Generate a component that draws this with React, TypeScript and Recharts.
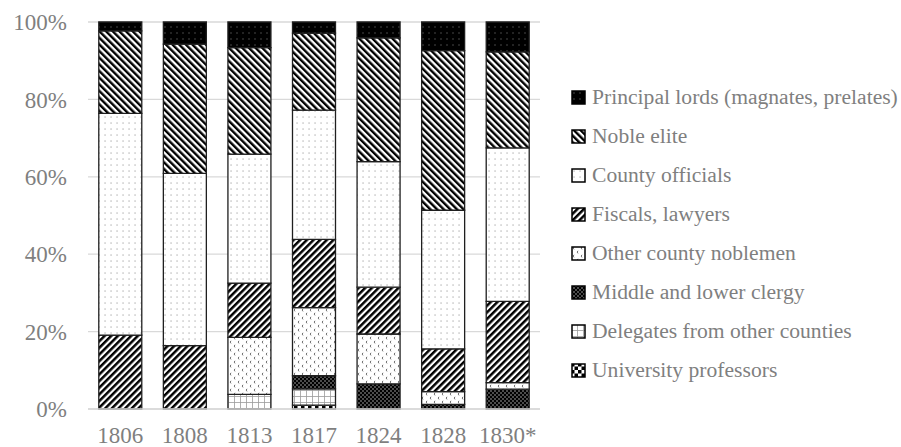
import React from 'react';
import { BarChart, Bar, XAxis, YAxis, CartesianGrid, Legend } from 'recharts';

const years = ['1806', '1808', '1813', '1817', '1824', '1828', '1830*'];
const principalLords = [2.3, 5.7, 6.6, 2.9, 4.1, 7.4, 7.7];
const nobleElite = [21.3, 33.4, 27.5, 19.9, 32.0, 41.1, 24.7];
const countyOfficials = [57.3, 44.5, 33.3, 33.4, 32.5, 35.7, 39.5];
const fiscalsLawyers = [19.1, 16.4, 14.0, 17.7, 12.1, 11.0, 20.9];
const otherNoblemen = [0, 0, 14.7, 17.6, 12.9, 3.3, 1.7];
const lowerClergy = [0, 0, 0, 3.4, 6.5, 1.2, 5.1];
const delegates = [0, 0, 3.8, 4.2, 0, 0, 0];
const professors = [0, 0, 0, 1.0, 0, 0, 0];
const yTicks = [0, 0.2, 0.4, 0.6, 0.8, 1];

// stacking order bottom -> top
const series = [
  { key: 'prof', name: 'University professors', values: professors, pat: 'pProf' },
  { key: 'dele', name: 'Delegates from other counties', values: delegates, pat: 'pDele' },
  { key: 'cler', name: 'Middle and lower clergy', values: lowerClergy, pat: 'pCler' },
  { key: 'othr', name: 'Other county noblemen', values: otherNoblemen, pat: 'pOthr' },
  { key: 'fisc', name: 'Fiscals, lawyers', values: fiscalsLawyers, pat: 'pFisc' },
  { key: 'offi', name: 'County officials', values: countyOfficials, pat: 'pOffi' },
  { key: 'elit', name: 'Noble elite', values: nobleElite, pat: 'pElit' },
  { key: 'lord', name: 'Principal lords (magnates, prelates)', values: principalLords, pat: 'pLord' },
];

const data = years.map((y, i) => {
  const row: any = { year: y };
  series.forEach((s) => { row[s.key] = s.values[i]; });
  return row;
});

const FONT = "'Liberation Serif', 'Times New Roman', serif";
const TEXT = '#7f7f7f';

const Patterns = () => (
  <svg width={0} height={0} style={{ position: 'absolute' }}>
    <defs>
      <pattern id="pLord" patternUnits="userSpaceOnUse" width={6} height={6}>
        <rect width={6} height={6} fill="#000" />
        <rect x={2.5} y={2.5} width={1} height={1} fill="#8c8c8c" />
      </pattern>
      <pattern id="pElit" patternUnits="userSpaceOnUse" width={4.7} height={4.7} patternTransform="rotate(-45)">
        <rect width={4.7} height={4.7} fill="#fff" />
        <rect width={2.4} height={4.7} fill="#000" />
      </pattern>
      <pattern id="pOffi" patternUnits="userSpaceOnUse" width={6} height={6}>
        <rect width={6} height={6} fill="#fff" />
        <rect x={2.5} y={2.5} width={1.1} height={1.1} fill="#999" />
      </pattern>
      <pattern id="pFisc" patternUnits="userSpaceOnUse" width={4.7} height={4.7} patternTransform="rotate(45)">
        <rect width={4.7} height={4.7} fill="#fff" />
        <rect width={2.5} height={4.7} fill="#000" />
      </pattern>
      <pattern id="pOthr" patternUnits="userSpaceOnUse" width={8} height={8}>
        <rect width={8} height={8} fill="#fff" />
        <path d="M3 0.8 q-1.6 1.2 0 2.6" stroke="#6e6e6e" strokeWidth={1} fill="none" />
        <path d="M7 4.8 q-1.6 1.2 0 2.6" stroke="#6e6e6e" strokeWidth={1} fill="none" />
      </pattern>
      <pattern id="pCler" patternUnits="userSpaceOnUse" width={4} height={4}>
        <rect width={4} height={4} fill="#000" />
        <circle cx={1} cy={1} r={0.75} fill="#bdbdbd" />
        <circle cx={3} cy={3} r={0.75} fill="#bdbdbd" />
      </pattern>
      <pattern id="pDele" patternUnits="userSpaceOnUse" width={6} height={6}>
        <rect width={6} height={6} fill="#fff" />
        <path d="M0 0.5 H6 M0.5 0 V6" stroke="#9a9a9a" strokeWidth={0.8} />
      </pattern>
      <pattern id="pProf" patternUnits="userSpaceOnUse" width={7} height={7}>
        <rect width={7} height={7} fill="#fff" />
        <rect x={0} y={0} width={3.5} height={3.5} fill="#000" />
        <rect x={3.5} y={3.5} width={3.5} height={3.5} fill="#000" />
      </pattern>
    </defs>
  </svg>
);

const renderLegend = () => (
  <div style={{ fontFamily: FONT, fontSize: 21.6, color: TEXT }}>
    {[...series].reverse().map((s) => (
      <div key={s.key} style={{ height: 39, display: 'flex', alignItems: 'center', whiteSpace: 'nowrap' }}>
        <svg width={15} height={15} style={{ marginRight: 6 }}>
          <rect x={1} y={1} width={13} height={13} fill={`url(#${s.pat})`} stroke="#000" strokeWidth={1.5} />
        </svg>
        <span>{s.name}</span>
      </div>
    ))}
  </div>
);

export default function App() {
  return (
    <div style={{ position: 'absolute', left: 0, top: 0, width: 901, height: 447, background: '#fff' }}>
      <Patterns />
      <BarChart
        width={901}
        height={447}
        data={data}
        stackOffset="expand"
        barCategoryGap="16.7%"
        margin={{ top: 22, right: 361, bottom: 0, left: 0 }}
      >
        <CartesianGrid vertical={false} stroke="#d9d9d9" strokeWidth={1.3} />
        <XAxis
          dataKey="year"
          height={38}
          axisLine={{ stroke: '#d9d9d9', strokeWidth: 1.3 }}
          tickLine={false}
          tickMargin={12}
          tick={{ fill: TEXT, fontSize: 23, fontFamily: FONT }}
        />
        <YAxis
          width={88}
          domain={[0, 1]}
          ticks={yTicks}
          tickFormatter={(v: number) => `${Math.round(v * 100)}%`}
          axisLine={false}
          tickLine={false}
          tickSize={0}
          tickMargin={21}
          tick={{ fill: TEXT, fontSize: 23, fontFamily: FONT }}
        />
        {series.map((s) => (
          <Bar
            key={s.key}
            dataKey={s.key}
            name={s.name}
            stackId="a"
            fill={`url(#${s.pat})`}
            stroke="#1f1f1f"
            strokeWidth={1.3}
            isAnimationActive={false}
          />
        ))}
        <Legend
          layout="vertical"
          align="center"
          verticalAlign="middle"
          wrapperStyle={{ left: 571, top: 78, width: 330 }}
          content={renderLegend}
        />
      </BarChart>
    </div>
  );
}
